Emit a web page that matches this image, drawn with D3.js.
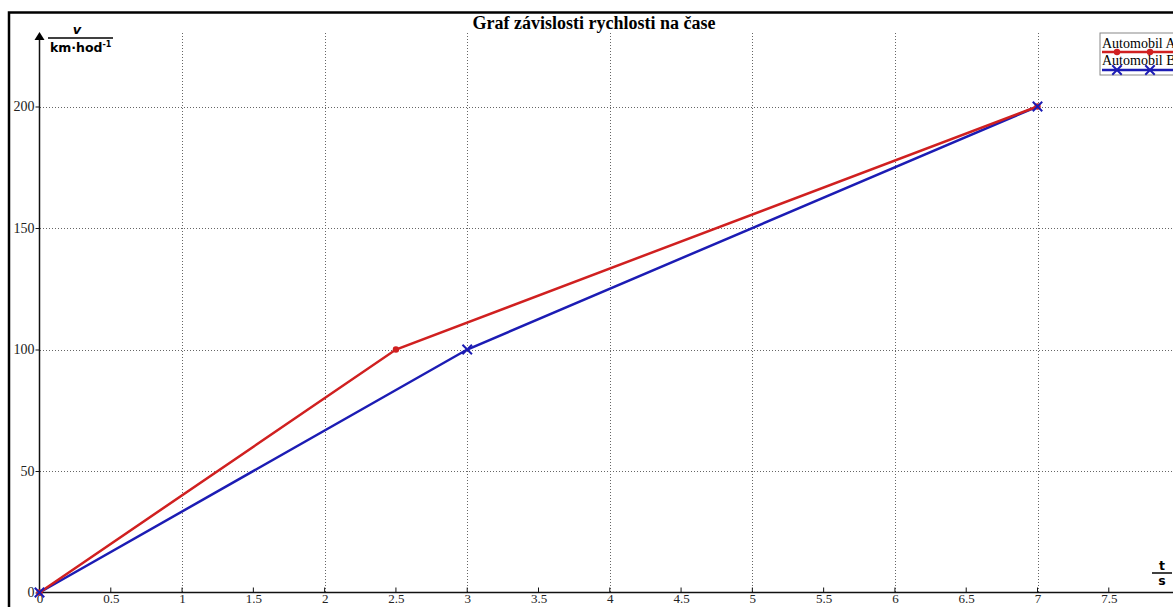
<!DOCTYPE html>
<html>
<head>
<meta charset="utf-8">
<script src="https://cdn.jsdelivr.net/npm/d3@7"></script>
<style>
  body { margin: 0; background: #fff; }
  svg { display: block; }
</style>
</head>
<body>
<div id="plot"></div>
<script>
// chart size
var width = 1173;
var height = 607;

// data
var timeA = [0, 2.5, 7];
var speedA = [0, 100, 200];
var timeB = [0, 3, 7];
var speedB = [0, 100, 200];
var seriesNames = ["Automobil A", "Automobil B"];
var xTicks = [0, 0.5, 1, 1.5, 2, 2.5, 3, 3.5, 4, 4.5, 5, 5.5, 6, 6.5, 7, 7.5];
var yTicks = [0, 50, 100, 150, 200];
var xGrid = [1, 2, 3, 4, 5, 6, 7];
var yGrid = [50, 100, 150, 200];

var redCol = "#d02020";
var blueCol = "#1c1cb4";

var svg = d3.select("#plot")
  .append("svg")
  .attr("width", width)
  .attr("height", height);

// scales
var x = d3.scaleLinear().domain([0, 7]).range([39.5, 1037.5]);
var y = d3.scaleLinear().domain([0, 200]).range([592.5, 106.5]);

// frame
svg.append("rect")
  .attr("x", 9).attr("y", 12.5)
  .attr("width", 1200).attr("height", 700)
  .attr("fill", "none")
  .attr("stroke", "#000")
  .attr("stroke-width", 2.5);

// grid
svg.selectAll("line.vgrid")
  .data(xGrid)
  .enter()
  .append("line")
  .attr("class", "vgrid")
  .attr("x1", function(d) { return Math.round(x(d)) + 0.5; })
  .attr("x2", function(d) { return Math.round(x(d)) + 0.5; })
  .attr("y1", 33)
  .attr("y2", y(0))
  .attr("stroke", "#666")
  .attr("stroke-width", 1)
  .attr("shape-rendering", "crispEdges")
  .attr("stroke-dasharray", "1,2");

svg.selectAll("line.hgrid")
  .data(yGrid)
  .enter()
  .append("line")
  .attr("class", "hgrid")
  .attr("x1", x(0))
  .attr("x2", width)
  .attr("y1", function(d) { return Math.round(y(d)) + 0.5; })
  .attr("y2", function(d) { return Math.round(y(d)) + 0.5; })
  .attr("stroke", "#666")
  .attr("stroke-width", 1)
  .attr("shape-rendering", "crispEdges")
  .attr("stroke-dasharray", "1,2");

// x axis
var xAxis = d3.axisBottom(x).tickValues(xTicks).tickSize(0)
  .tickFormat(function(d) { return String(d); });
var gx = svg.append("g")
  .attr("transform", "translate(0," + y(0) + ")")
  .call(xAxis);
gx.select(".domain").remove();
gx.selectAll("text")
  .attr("dy", 0).attr("y", 10.5)
  .attr("font-family", "'Liberation Serif', 'DejaVu Serif', serif")
  .attr("font-size", 13)
  .attr("fill", "#222");

svg.append("line")
  .attr("x1", x(0)).attr("x2", width)
  .attr("y1", y(0)).attr("y2", y(0))
  .attr("stroke", "#111").attr("stroke-width", 1.5);

svg.selectAll("line.xtick")
  .data(xTicks.filter(function(d) { return d > 0; }))
  .enter()
  .append("line")
  .attr("class", "xtick")
  .attr("x1", function(d) { return x(d); })
  .attr("x2", function(d) { return x(d); })
  .attr("y1", y(0) - 5)
  .attr("y2", y(0))
  .attr("stroke", "#111");

// y axis
var yAxis = d3.axisLeft(y).tickValues(yTicks).tickSize(4).tickPadding(1);
var gy = svg.append("g")
  .attr("transform", "translate(" + x(0) + ",0)")
  .call(yAxis);
gy.select(".domain").remove();
gy.selectAll("line").attr("stroke", "#111");
gy.selectAll("text")
  .attr("font-family", "'Liberation Serif', 'DejaVu Serif', serif")
  .attr("font-size", 14)
  .attr("fill", "#222");

svg.append("line")
  .attr("x1", x(0)).attr("x2", x(0))
  .attr("y1", 38).attr("y2", y(0))
  .attr("stroke", "#111").attr("stroke-width", 1.5);

// arrow at top of y axis
svg.append("path")
  .attr("d", "M" + (x(0) - 5) + ",40 L" + x(0) + ",32 L" + (x(0) + 5) + ",40 Z")
  .attr("fill", "#000");

// y axis label (fraction)
svg.append("text")
  .text("v")
  .attr("x", 77).attr("y", 34)
  .attr("text-anchor", "middle")
  .attr("font-family", "'DejaVu Sans', sans-serif")
  .attr("font-weight", "bold")
  .attr("font-style", "italic")
  .attr("font-size", 13);
svg.append("line")
  .attr("x1", 48).attr("x2", 113)
  .attr("y1", 38).attr("y2", 38)
  .attr("stroke", "#000").attr("stroke-width", 1.5);
var yl = svg.append("text")
  .attr("x", 50).attr("y", 52)
  .attr("font-family", "'DejaVu Sans', sans-serif")
  .attr("font-weight", "bold")
  .attr("font-size", 12.5);
yl.append("tspan").text("km·hod");
yl.append("tspan").text("-1").attr("font-size", 8).attr("dy", -5);

// x axis label (fraction)
svg.append("text")
  .text("t")
  .attr("x", 1162).attr("y", 570)
  .attr("text-anchor", "middle")
  .attr("font-family", "'DejaVu Sans', sans-serif")
  .attr("font-weight", "bold")
  .attr("font-size", 12.5);
svg.append("line")
  .attr("x1", 1152).attr("x2", 1172)
  .attr("y1", 573).attr("y2", 573)
  .attr("stroke", "#000").attr("stroke-width", 1.5);
svg.append("text")
  .text("s")
  .attr("x", 1162).attr("y", 585)
  .attr("text-anchor", "middle")
  .attr("font-family", "'DejaVu Sans', sans-serif")
  .attr("font-weight", "bold")
  .attr("font-size", 12.5);

// title
svg.append("text")
  .text("Graf závislosti rychlosti na čase")
  .attr("x", 594).attr("y", 29)
  .attr("text-anchor", "middle")
  .attr("font-family", "'Liberation Serif', 'DejaVu Serif', serif")
  .attr("font-weight", "bold")
  .attr("font-size", 18);

// lines
var line = d3.line()
  .x(function(d) { return x(d[0]); })
  .y(function(d) { return y(d[1]); });

var dataA = d3.zip(timeA, speedA);
var dataB = d3.zip(timeB, speedB);

svg.append("path")
  .datum(dataB)
  .attr("d", line)
  .attr("fill", "none")
  .attr("stroke", blueCol)
  .attr("stroke-width", 2.5);

svg.append("path")
  .datum(dataA)
  .attr("d", line)
  .attr("fill", "none")
  .attr("stroke", redCol)
  .attr("stroke-width", 2.5);

// markers
svg.selectAll("circle.ma")
  .data(dataA)
  .enter()
  .append("circle")
  .attr("class", "ma")
  .attr("cx", function(d) { return x(d[0]); })
  .attr("cy", function(d) { return y(d[1]); })
  .attr("r", 3.2)
  .attr("fill", redCol);

var cross = d3.symbol().type(d3.symbolX).size(60);
svg.selectAll("path.mb")
  .data(dataB)
  .enter()
  .append("path")
  .attr("class", "mb")
  .attr("d", cross)
  .attr("transform", function(d) { return "translate(" + x(d[0]) + "," + y(d[1]) + ")"; })
  .attr("fill", "none")
  .attr("stroke", blueCol)
  .attr("stroke-width", 2);

// legend
var leg = svg.append("g");
leg.append("rect")
  .attr("x", 1100).attr("y", 33)
  .attr("width", 100).attr("height", 42)
  .attr("fill", "#fff")
  .attr("stroke", "#888");
leg.selectAll("text")
  .data(seriesNames)
  .enter()
  .append("text")
  .text(function(d) { return d; })
  .attr("x", 1102)
  .attr("y", function(d, i) { return 48 + i * 17; })
  .attr("font-family", "'Liberation Serif', 'DejaVu Serif', serif")
  .attr("font-size", 14);
leg.append("line")
  .attr("x1", 1102).attr("x2", 1173)
  .attr("y1", 52).attr("y2", 52)
  .attr("stroke", redCol).attr("stroke-width", 2.5);
leg.append("line")
  .attr("x1", 1102).attr("x2", 1173)
  .attr("y1", 70).attr("y2", 70)
  .attr("stroke", blueCol).attr("stroke-width", 2.5);
leg.selectAll("circle")
  .data([1117, 1150])
  .enter()
  .append("circle")
  .attr("cx", function(d) { return d; })
  .attr("cy", 52)
  .attr("r", 3.2)
  .attr("fill", redCol);
leg.selectAll("path.lx")
  .data([1117, 1150])
  .enter()
  .append("path")
  .attr("class", "lx")
  .attr("d", cross)
  .attr("transform", function(d) { return "translate(" + d + ",70)"; })
  .attr("fill", "none")
  .attr("stroke", blueCol)
  .attr("stroke-width", 2);
</script>
</body>
</html>
